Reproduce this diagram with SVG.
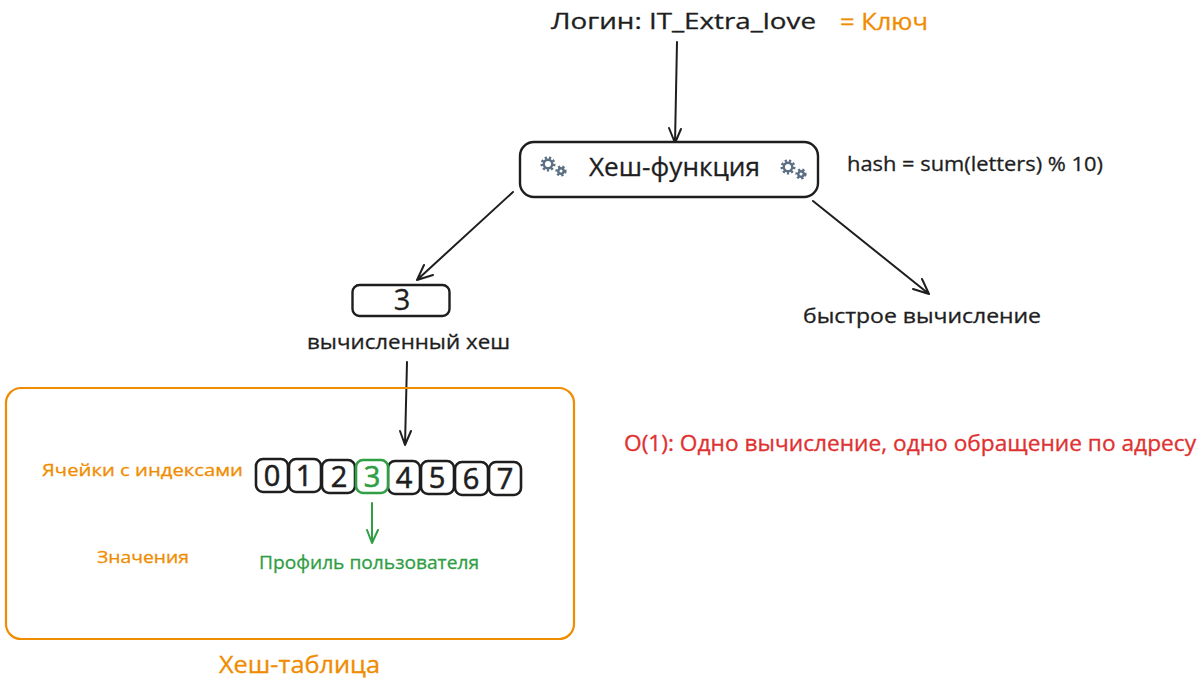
<svg xmlns="http://www.w3.org/2000/svg" width="1200" height="687" viewBox="0 0 1200 687">
<style>
text{font-family:"Open Sans","Noto Sans","DejaVu Sans",sans-serif;fill:#1e1e1e;stroke:#1e1e1e;stroke-width:.3}
.o{fill:#f08c00;stroke:#f08c00}.g{fill:#2f9e44;stroke:#2f9e44}.r{fill:#e03131;stroke:#e03131}
.box{fill:#fff;stroke:#1e1e1e;stroke-width:2.4}
.cell{fill:#fff;stroke:#1e1e1e;stroke-width:2.6}
.num{font-size:29px;text-anchor:middle;stroke-width:.6}
.line{fill:none;stroke:#1e1e1e;stroke-width:2;stroke-linecap:round;stroke-linejoin:round}
.gear{fill:none;stroke:#5b7083;stroke-width:2.4}
.teeth{fill:none;stroke:#5b7083;stroke-width:2.6;stroke-dasharray:2.2 2}
</style>
<defs>
<g id="gears">
<circle class="gear" cx="0" cy="0" r="4.300"/><circle class="teeth" cx="0" cy="0" r="6.200"/>
<circle class="gear" cx="13" cy="7" r="2.700"/><circle class="teeth" cx="13" cy="7" r="4.300"/>
</g>
</defs>
<g id="connectors">
<path class="line" d="M677 42L675 143M669 128L675 143L681 129"/>
<path class="line" d="M513 192L417 280M424 265L417 280L433 275"/>
<path class="line" d="M813 201L929 294M913 289L929 294L922 279"/>
<path class="line" d="M407 362L405 445M400 431L405 445L411 431"/>
<path class="line" style="stroke:#2f9e44" d="M372 503L372 543M367 530L372 543L378 530"/>
</g>
<g id="login"><text x="551" y="29" font-size="22" textLength="265" lengthAdjust="spacingAndGlyphs">Логин: IT_Extra_love</text></g>
<g id="key"><text class="o" x="840" y="30" font-size="23" textLength="88" lengthAdjust="spacingAndGlyphs">= Ключ</text></g>
<g id="hash-function">
<rect class="box" x="520" y="142" width="298" height="55" rx="14"/>
<use href="#gears" x="548" y="164"/>
<use href="#gears" x="788" y="167"/>
<text x="589" y="176" font-size="26" textLength="171" lengthAdjust="spacingAndGlyphs">Хеш-функция</text>
</g>
<g id="formula"><text x="847" y="171" font-size="20" textLength="256" lengthAdjust="spacingAndGlyphs">hash = sum(letters) % 10)</text></g>
<g id="hash-value">
<rect class="box" x="352.500" y="285" width="97" height="31" rx="7"/>
<text x="402" y="310" font-size="29" text-anchor="middle">3</text>
</g>
<g id="hash-label"><text x="307" y="349" font-size="20" textLength="203" lengthAdjust="spacingAndGlyphs">вычисленный хеш</text></g>
<g id="fast-label"><text x="803" y="323" font-size="20" textLength="238" lengthAdjust="spacingAndGlyphs">быстрое вычисление</text></g>
<g id="complexity"><text class="r" x="624" y="451" font-size="21" textLength="572" lengthAdjust="spacingAndGlyphs">O(1): Одно вычисление, одно обращение по адресу</text></g>
<g id="hash-table"><rect x="6" y="388" width="568" height="251" rx="15" fill="none" stroke="#f08c00" stroke-width="2.200"/></g>
<g id="hash-table-label"><text class="o" x="219" y="673" font-size="23" textLength="161" lengthAdjust="spacingAndGlyphs">Хеш-таблица</text></g>
<g id="cells-label"><text class="o" x="42" y="476" font-size="17" textLength="201" lengthAdjust="spacingAndGlyphs">Ячейки с индексами</text></g>
<g id="values-label"><text class="o" x="97" y="563" font-size="17" textLength="92" lengthAdjust="spacingAndGlyphs">Значения</text></g>
<g id="cell-0"><rect class="cell" x="256" y="459" width="32" height="33" rx="7"/><text class="num" x="272" y="486">0</text></g>
<g id="cell-1"><rect class="cell" x="289" y="459" width="32" height="33" rx="7"/><text class="num" x="304" y="486">1</text></g>
<g id="cell-2"><rect class="cell" x="322" y="460" width="33" height="33" rx="7"/><text class="num" x="339" y="487">2</text></g>
<g id="cell-4"><rect class="cell" x="388" y="461" width="32" height="33" rx="7"/><text class="num" x="404" y="488">4</text></g>
<g id="cell-5"><rect class="cell" x="421" y="461" width="33" height="33" rx="7"/><text class="num" x="437" y="488">5</text></g>
<g id="cell-6"><rect class="cell" x="455" y="462" width="33" height="33" rx="7"/><text class="num" x="471" y="489">6</text></g>
<g id="cell-7"><rect class="cell" x="489" y="462" width="32" height="33" rx="7"/><text class="num" x="505" y="489">7</text></g>
<g id="cell-3"><rect class="cell" style="stroke:#2f9e44" x="356" y="460" width="32" height="33" rx="7"/><text class="num g" x="372" y="487">3</text></g>
<g id="profile"><text class="g" x="259" y="569" font-size="18" textLength="220" lengthAdjust="spacingAndGlyphs">Профиль пользователя</text></g>
</svg>
